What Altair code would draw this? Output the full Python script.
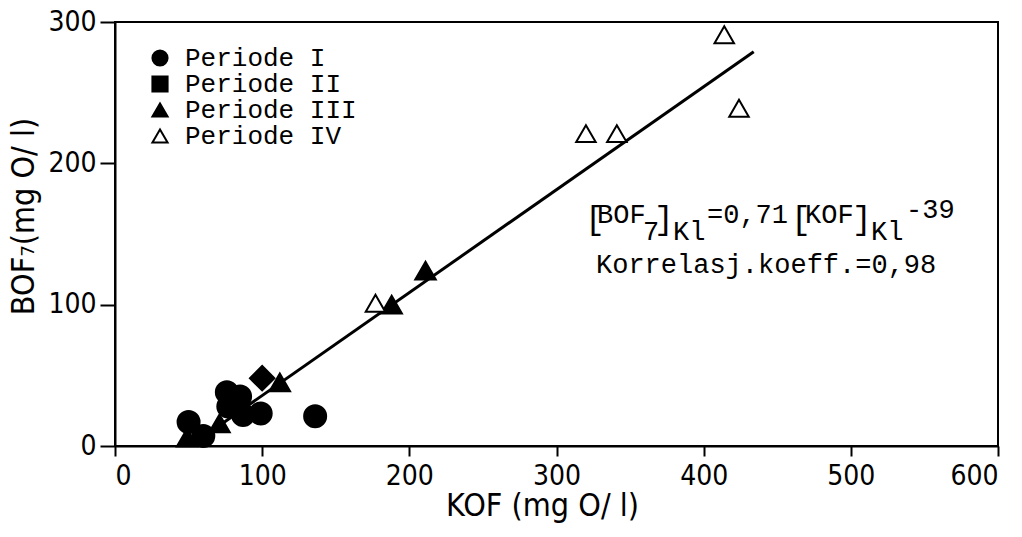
import altair as alt
import pandas as pd

periods = ["Periode I", "Periode II", "Periode III", "Periode IV"]

p1_kof = [50, 60, 76, 77, 85, 87, 99, 136]
p1_bof = [17, 7, 38, 28, 35, 22, 23, 21]
p2_kof = [100]
p2_bof = [48]
p3_kof = [49, 71, 112, 188, 211]
p3_bof = [6, 16, 45, 100, 124]
p4_kof = [177, 320, 341, 414, 424]
p4_bof = [101, 221, 221, 291, 239]

fit_kof = [62, 434]
fit_bof = [8, 279]

x_ticks = [0, 100, 200, 300, 400, 500, 600]
y_ticks = [0, 100, 200, 300]

rows = []
for name, xs, ys in zip(periods, [p1_kof, p2_kof, p3_kof, p4_kof], [p1_bof, p2_bof, p3_bof, p4_bof]):
    for a, b in zip(xs, ys):
        rows.append({"kof": a, "bof": b, "period": name})
df = pd.DataFrame(rows)
fit_df = pd.DataFrame({"kof": fit_kof, "bof": fit_bof})

TICK_FONT = "Liberation Sans Narrow, DejaVu Sans Condensed, sans-serif"
MONO = "Liberation Mono, Courier New, monospace"

xscale = alt.Scale(domain=[0, 600], nice=False, zero=False)
yscale = alt.Scale(domain=[0, 300], nice=False, zero=False)

xaxis = alt.Axis(values=x_ticks, title="KOF (mg O/ l)", tickSize=10, labelPadding=6,
                 titleX=427, titleY=69, titleBaseline="alphabetic", titleAlign="center")
yaxis = alt.Axis(values=y_ticks, title="BOF₇(mg O/ l)", tickSize=15, labelPadding=4,
                 titleX=-82, titleY=194, titleAngle=270, titleBaseline="alphabetic",
                 titleAlign="center")

leg = alt.Legend(title=None, orient="none", legendX=32, legendY=23,
                 labelFont=MONO, labelFontSize=26, labelColor="black", labelLimit=400,
                 symbolSize=230, symbolStrokeColor="black", symbolStrokeWidth=2,
                 padding=0, rowPadding=-1, labelOffset=12)

line = alt.Chart(fit_df).mark_line(color="black", strokeWidth=3).encode(
    x=alt.X("kof:Q", scale=xscale, axis=xaxis),
    y=alt.Y("bof:Q", scale=yscale, axis=yaxis),
)

size_enc = (alt.when(alt.datum.period == "Periode I").then(alt.value(484))
            .when(alt.datum.period == "Periode II").then(alt.value(300))
            .when(alt.datum.period == "Periode III").then(alt.value(420))
            .otherwise(alt.value(380)))
angle_enc = alt.when(alt.datum.period == "Periode II").then(alt.value(45)).otherwise(alt.value(0))

points = alt.Chart(df).mark_point(opacity=1, fillOpacity=1, strokeWidth=2).encode(
    x=alt.X("kof:Q", scale=xscale, axis=xaxis),
    y=alt.Y("bof:Q", scale=yscale, axis=yaxis),
    shape=alt.Shape("period:N", scale=alt.Scale(domain=periods,
                    range=["circle", "square", "triangle-up", "triangle-up"]), legend=leg),
    fill=alt.Fill("period:N", scale=alt.Scale(domain=periods,
                  range=["black", "black", "black", "white"]), legend=leg),
    stroke=alt.Stroke("period:N", scale=alt.Scale(domain=periods,
                      range=["black", "black", "black", "black"]), legend=leg),
    size=size_enc,
    angle=angle_enc,
)

one = alt.Data(values=[{"a": 1}])


def txt(s, px, py, size=27, base="alphabetic"):
    return alt.Chart(one).mark_text(align="left", baseline=base, font=MONO, fontSize=size,
                                    color="black").encode(
        x=alt.value(px - 115), y=alt.value(py - 22), text=alt.value(s))


annots = [
    txt("[", 585, 229, 33),
    txt("BOF", 597, 223),
    txt("7", 643, 240),
    txt("]", 654, 229, 33),
    txt("Kl", 673, 240),
    txt("=0,71", 707, 223),
    txt("[", 791, 229, 33),
    txt("KOF", 805, 223),
    txt("]", 852, 229, 33),
    txt("Kl", 871, 240),
    txt("-39", 906, 218),
    txt("Korrelasj.koeff.=0,98", 596, 273, 27),
]

chart = alt.layer(line, points, *annots).properties(
    width=883, height=424,
    autosize=alt.AutoSizeParams(type="none"),
    padding={"left": 107, "top": 14, "right": 10, "bottom": 78},
    background="white",
).configure_view(stroke="black", strokeWidth=2).configure_axis(
    grid=False, domainColor="black", domainWidth=2, tickColor="black", tickWidth=2,
    labelFont=TICK_FONT, labelFontSize=28, labelColor="black",
    titleFont=TICK_FONT, titleFontSize=32, titleColor="black", titleFontWeight="normal",
)

chart.save("out.html", embed_options={"renderer": "svg", "actions": False})
